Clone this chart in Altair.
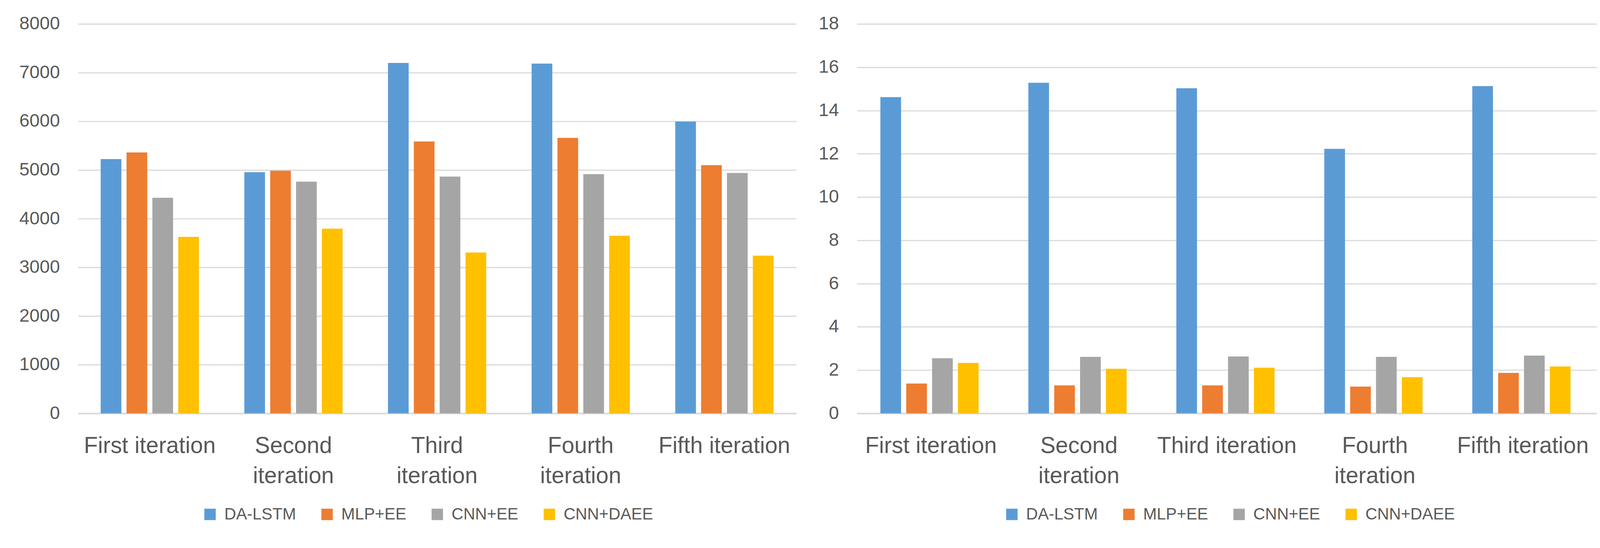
import altair as alt
import pandas as pd

categories = ["First iteration", "Second iteration", "Third iteration", "Fourth iteration", "Fifth iteration"]
models = ["DA-LSTM", "MLP+EE", "CNN+EE", "CNN+DAEE"]
colors = ["#5B9BD5", "#ED7D31", "#A5A5A5", "#FFC000"]

left_da_lstm = [5225, 4955, 7200, 7185, 5995]
left_mlp_ee = [5360, 4985, 5585, 5660, 5100]
left_cnn_ee = [4430, 4760, 4865, 4915, 4940]
left_cnn_daee = [3625, 3795, 3305, 3650, 3240]

right_da_lstm = [14.62, 15.28, 15.03, 12.23, 15.13]
right_mlp_ee = [1.38, 1.29, 1.29, 1.24, 1.87]
right_cnn_ee = [2.55, 2.61, 2.63, 2.61, 2.67]
right_cnn_daee = [2.33, 2.06, 2.11, 1.67, 2.17]

left_ticks = [0, 1000, 2000, 3000, 4000, 5000, 6000, 7000, 8000]
right_ticks = [0, 2, 4, 6, 8, 10, 12, 14, 16, 18]

left_wrapped = ["Second iteration", "Third iteration", "Fourth iteration"]
right_wrapped = ["Second iteration", "Fourth iteration"]

FONT = "Liberation Sans"
TEXT = "#595959"
GRID = "#D9D9D9"


def make_df(series):
    rows = []
    for m, vals in zip(models, series):
        for c, v in zip(categories, vals):
            rows.append({"category": c, "model": m, "value": v})
    return pd.DataFrame(rows)


def make_chart(df, ticks, ymax, wrapped, width, extent, legend_x):
    wrapped_list = "[" + ",".join("'" + w + "'" for w in wrapped) + "]"
    label_expr = f"indexof({wrapped_list}, datum.value) >= 0 ? split(datum.value, ' ') : datum.value"
    return alt.Chart(df).mark_bar().encode(
        x=alt.X(
            "category:N",
            sort=categories,
            scale=alt.Scale(paddingInner=0.316, paddingOuter=0.158),
            axis=alt.Axis(
                title=None, labelAngle=0, labelFont=FONT, labelFontSize=60,
                labelColor=TEXT, labelPadding=57, labelLineHeight=79,
                labelExpr=label_expr, ticks=False, domain=True, labelLimit=0,
                domainColor=GRID, domainWidth=4, labelBaseline="top",
            ),
        ),
        xOffset=alt.XOffset("model:N", sort=models,
                            scale=alt.Scale(paddingInner=0.2, paddingOuter=0)),
        y=alt.Y(
            "value:Q",
            scale=alt.Scale(domain=[0, ymax], nice=False),
            axis=alt.Axis(
                title=None, values=ticks, format="d", labelFont=FONT, labelFontSize=48,
                labelColor=TEXT, labelPadding=48, ticks=False, domain=False,
                gridColor=GRID, gridWidth=3, minExtent=extent, maxExtent=extent,
            ),
        ),
        color=alt.Color(
            "model:N",
            sort=models,
            scale=alt.Scale(domain=models, range=colors),
            legend=alt.Legend(
                title=None, orient="none", legendX=legend_x, legendY=1268,
                direction="horizontal", symbolType="square", symbolSize=900,
                symbolStrokeWidth=0, labelFont=FONT, labelFontSize=43, labelLimit=0,
                labelColor=TEXT, columnPadding=60, labelOffset=16,
            ),
        ),
    ).properties(width=width, height=1024)


left = make_chart(make_df([left_da_lstm, left_mlp_ee, left_cnn_ee, left_cnn_daee]),
                  left_ticks, 8000, left_wrapped, 1890, 197, 326)
right = make_chart(make_df([right_da_lstm, right_mlp_ee, right_cnn_ee, right_cnn_daee]),
                   right_ticks, 18, right_wrapped, 1947, 100, 386)

chart = alt.hconcat(left, right, spacing=58).resolve_legend(color="independent").resolve_scale(
    color="independent"
).configure_view(stroke=None).properties(
    background="white",
    padding={"left": 0, "top": 12, "right": 0, "bottom": 0},
)

chart.save("out.html", embed_options={"renderer": "svg", "actions": False})
